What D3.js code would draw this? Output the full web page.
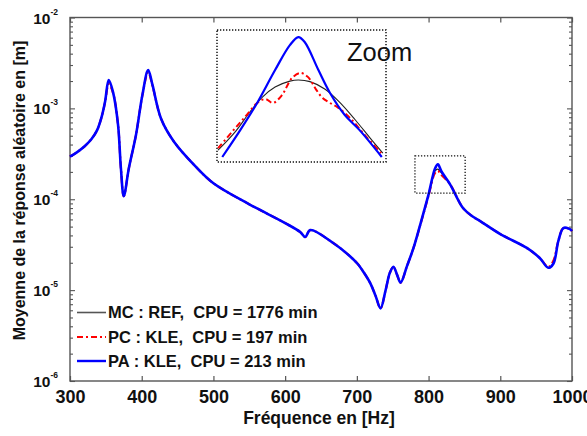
<!DOCTYPE html>
<html><head><meta charset="utf-8">
<script src="https://cdn.jsdelivr.net/npm/d3@7"></script>
<style>
html,body{margin:0;padding:0;background:#fff;}
svg{display:block;font-family:"Liberation Sans",Arial,sans-serif;}
</style></head>
<body>
<svg id="c" width="587" height="436"></svg>
<script>
// ---------- data ----------
const freqHz = [300,310,320,330,338,344,349,354,360,367,371,375,382,392,401,409,415,427,445,475,500,550,600,621,628,635,667,690,701,710,719,726,733,740,746,751,756,761,770,779,789,800,809,813,818,830,848,861,872,900,937,955,967,974,981,988,997,1000];
const paKLE = [2.95e-4,3.3e-4,3.8e-4,4.6e-4,5.8e-4,8.0e-4,1.2e-3,2.05e-3,1.51e-3,6.6e-4,2.18e-4,1.08e-4,2.18e-4,5.1e-4,1.41e-3,2.64e-3,1.81e-3,7.7e-4,4.3e-4,2.3e-4,1.5e-4,8.8e-5,5.47e-5,4.36e-5,3.84e-5,4.58e-5,3.3e-5,2.38e-5,1.95e-5,1.55e-5,1.18e-5,8.7e-6,6.3e-6,9.9e-6,1.55e-5,1.81e-5,1.48e-5,1.21e-5,1.85e-5,2.91e-5,5.47e-5,1.13e-4,2.18e-4,2.42e-4,2.02e-4,1.46e-4,8.0e-5,6.5e-5,5.75e-5,4.14e-5,2.91e-5,2.26e-5,1.76e-5,1.95e-5,3.48e-5,4.82e-5,4.7e-5,4.47e-5];
const pcKLE = [2.95e-4,3.3e-4,3.8e-4,4.6e-4,5.8e-4,8.0e-4,1.18e-3,1.85e-3,1.48e-3,6.6e-4,2.18e-4,1.08e-4,2.18e-4,5.1e-4,1.4e-3,2.5e-3,1.78e-3,7.7e-4,4.3e-4,2.3e-4,1.5e-4,8.8e-5,5.47e-5,4.36e-5,3.84e-5,4.58e-5,3.3e-5,2.38e-5,1.95e-5,1.55e-5,1.18e-5,8.7e-6,6.3e-6,9.9e-6,1.55e-5,1.81e-5,1.48e-5,1.21e-5,1.85e-5,2.91e-5,5.4e-5,1.1e-4,1.95e-4,2.05e-4,1.85e-4,1.46e-4,8.0e-5,6.5e-5,5.75e-5,4.14e-5,2.91e-5,2.26e-5,1.8e-5,2.1e-5,3.48e-5,4.82e-5,4.7e-5,4.47e-5];
const mcREF = [2.95e-4,3.3e-4,3.8e-4,4.6e-4,5.8e-4,8.0e-4,1.19e-3,1.95e-3,1.5e-3,6.6e-4,2.18e-4,1.08e-4,2.18e-4,5.1e-4,1.4e-3,2.58e-3,1.8e-3,7.7e-4,4.3e-4,2.3e-4,1.5e-4,8.8e-5,5.47e-5,4.36e-5,3.84e-5,4.58e-5,3.3e-5,2.38e-5,1.95e-5,1.55e-5,1.18e-5,8.7e-6,6.3e-6,9.9e-6,1.55e-5,1.81e-5,1.48e-5,1.21e-5,1.85e-5,2.91e-5,5.45e-5,1.12e-4,2.05e-4,2.15e-4,1.95e-4,1.46e-4,8.0e-5,6.5e-5,5.75e-5,4.14e-5,2.91e-5,2.26e-5,1.76e-5,1.95e-5,3.48e-5,4.82e-5,4.7e-5,4.47e-5];

// inset (zoom around the 813 Hz peak)
const insetHzDomain = [805, 821];
const insetAmpDomain = [1.7e-4, 2.5e-4];
const insetPaHz  = [805.5,807.2,808.8,810.5,811.9,812.7,813.3,814.6,815.7,817.1,818.5,820.6];
const insetPaAmp = [1.725e-4,1.866e-4,2.02e-4,2.224e-4,2.392e-4,2.449e-4,2.414e-4,2.224e-4,2.08e-4,1.95e-4,1.866e-4,1.725e-4];
const insetMcHz  = [805.1,806.7,808.1,809.3,810.5,811.9,812.7,813.8,815.2,816.6,818.1,819.5,820.7];
const insetMcAmp = [1.76e-4,1.855e-4,1.966e-4,2.055e-4,2.116e-4,2.153e-4,2.16e-4,2.15e-4,2.104e-4,2.025e-4,1.922e-4,1.823e-4,1.745e-4];
const insetPcHz  = [805.1,806.4,807.65,808.9,809.6,810.3,811.15,812.1,812.9,813.6,814.4,815.0,815.7,816.4,817.6,819.0,820.7];
const insetPcAmp = [1.77e-4,1.855e-4,1.939e-4,2.025e-4,2.043e-4,2.02e-4,2.067e-4,2.173e-4,2.205e-4,2.18e-4,2.099e-4,2.049e-4,2.02e-4,1.996e-4,1.933e-4,1.839e-4,1.735e-4];

const zoomBoxHz = [781, 851];
const zoomBoxAmp = [1.17e-4, 3.0e-4];

const xTicks = [300,400,500,600,700,800,900,1000];
const yExponents = [-2,-3,-4,-5,-6];
const legendLabels = ["MC : REF,  CPU = 1776 min","PC : KLE,  CPU = 197 min","PA : KLE,  CPU = 213 min"];
const xTitle = "Fréquence en [Hz]";
const yTitle = "Moyenne de la réponse aléatoire en [m]";

// ---------- drawing ----------
const svg = d3.select("#c");
const L = 70, R = 572, T = 17.5, B = 381;
const x = d3.scaleLinear().domain([300,1000]).range([L,R]);
const y = d3.scaleLog().domain([1e-6,1e-2]).range([B,T]);
const frameCol = "#555", textCol = "#111";

const yMinor = [];
for (let e=-6; e<-2; e++) for (let m=2; m<=9; m++) yMinor.push(m*Math.pow(10,e));
const yMajor = yExponents.map(e=>Math.pow(10,e));

const gAx = svg.append("g");
const xb = gAx.append("g").attr("transform",`translate(0,${B})`)
  .call(d3.axisBottom(x).tickValues(xTicks).tickSizeInner(-5).tickSizeOuter(0).tickPadding(9).tickFormat(d3.format("d")));
xb.select(".domain").remove();
xb.selectAll("line").attr("stroke",frameCol).attr("stroke-width",1.2);
xb.selectAll("text").attr("font-size",18).attr("font-weight","bold").attr("fill",textCol).attr("font-family","Liberation Sans, Arial, sans-serif");
const xt = gAx.append("g").attr("transform",`translate(0,${T})`)
  .call(d3.axisTop(x).tickValues(xTicks).tickSizeInner(-5).tickSizeOuter(0).tickFormat(""));
xt.select(".domain").remove();
xt.selectAll("line").attr("stroke",frameCol).attr("stroke-width",1.2);

function yAxisSide(axisFn, xpos, vals, size){
  const g = gAx.append("g").attr("transform",`translate(${xpos},0)`)
    .call(axisFn(y).tickValues(vals).tickSizeInner(-size).tickSizeOuter(0).tickFormat(""));
  g.select(".domain").remove();
  g.selectAll("line").attr("stroke",frameCol).attr("stroke-width",1.1);
}
yAxisSide(d3.axisLeft, L, yMajor, 5);
yAxisSide(d3.axisLeft, L, yMinor, 3);
yAxisSide(d3.axisRight, R, yMajor, 5);
yAxisSide(d3.axisRight, R, yMinor, 3);

const yl = gAx.append("g").selectAll("text").data(yExponents).join("text")
  .attr("x", 58).attr("y", d=>y(Math.pow(10,d))+6)
  .attr("text-anchor","end").attr("fill",textCol).attr("font-weight","bold");
yl.append("tspan").attr("font-size",15.5).text("10");
yl.append("tspan").attr("font-size",8.5).attr("dy",-9).text(d=>"-"+(-d));

svg.append("rect").attr("x",L).attr("y",T).attr("width",R-L).attr("height",B-T)
  .attr("fill","none").attr("stroke",frameCol).attr("stroke-width",1.4);

const rows = freqHz.map((f,i)=>({f, pa:paKLE[i], pc:pcKLE[i], mc:mcREF[i]}));
const mkLine = key => d3.line().x(d=>x(d.f)).y(d=>y(d[key])).curve(d3.curveCatmullRom.alpha(0.5));
const plot = svg.append("g");
plot.append("path").datum(rows).attr("d",mkLine("mc")).attr("fill","none").attr("stroke","#222").attr("stroke-width",1.2);
plot.append("path").datum(rows).attr("d",mkLine("pc")).attr("fill","none").attr("stroke","#ff0000").attr("stroke-width",2.2).attr("stroke-dasharray","7,3,2,3");
plot.append("path").datum(rows).attr("d",mkLine("pa")).attr("fill","none").attr("stroke","#0000ff").attr("stroke-width",2.6);

svg.append("rect")
  .attr("x",x(zoomBoxHz[0])).attr("y",y(zoomBoxAmp[1]))
  .attr("width",x(zoomBoxHz[1])-x(zoomBoxHz[0])).attr("height",y(zoomBoxAmp[0])-y(zoomBoxAmp[1]))
  .attr("fill","none").attr("stroke","#111").attr("stroke-width",1.3).attr("stroke-dasharray","1.3,1.7");

const IL=217, IR=386, IT=30, IB=162;
svg.append("rect").attr("x",IL).attr("y",IT).attr("width",IR-IL).attr("height",IB-IT)
  .attr("fill","#fff").attr("stroke","#111").attr("stroke-width",1.5).attr("stroke-dasharray","1.3,1.7");
const ix = d3.scaleLinear().domain(insetHzDomain).range([IL,IR]);
const iy = d3.scaleLog().domain(insetAmpDomain).range([IB,IT]);
const iLine = d3.line().x(d=>ix(d[0])).y(d=>iy(d[1])).curve(d3.curveCatmullRom.alpha(0.5));
const ig = svg.append("g");
ig.append("path").datum(d3.zip(insetMcHz,insetMcAmp)).attr("d",iLine).attr("fill","none").attr("stroke","#222").attr("stroke-width",1.1);
ig.append("path").datum(d3.zip(insetPcHz,insetPcAmp)).attr("d",iLine).attr("fill","none").attr("stroke","#ff0000").attr("stroke-width",2).attr("stroke-dasharray","6,3,2,3");
ig.append("path").datum(d3.zip(insetPaHz,insetPaAmp)).attr("d",iLine).attr("fill","none").attr("stroke","#0000ff").attr("stroke-width",2.2);
svg.append("text").attr("x",347).attr("y",61).attr("font-size",25.5).attr("fill","#111").text("Zoom");

const legStyles = [
  {stroke:"#555", w:1.6, dash:null},
  {stroke:"#ff0000", w:2.2, dash:"6,3,2,3"},
  {stroke:"#0000ff", w:2.4, dash:null}
];
const legY = [312.5, 337, 361];
const lg = svg.append("g");
legendLabels.forEach((t,i)=>{
  lg.append("line").attr("x1",77).attr("x2",106).attr("y1",legY[i]).attr("y2",legY[i])
    .attr("stroke",legStyles[i].stroke).attr("stroke-width",legStyles[i].w)
    .attr("stroke-dasharray",legStyles[i].dash);
  lg.append("text").attr("x",108).attr("y",legY[i]+5.5).attr("font-size",16.5).attr("font-weight","bold")
    .attr("fill",textCol).style("white-space","pre").text(t);
});

svg.append("text").attr("x",319).attr("y",424).attr("text-anchor","middle")
  .attr("font-size",17.5).attr("font-weight","bold").attr("fill",textCol).text(xTitle);
svg.append("text").attr("transform","translate(25,190.5) rotate(-90)").attr("text-anchor","middle")
  .attr("font-size",16).attr("font-weight","bold").attr("fill",textCol).text(yTitle);
</script>
</body></html>
